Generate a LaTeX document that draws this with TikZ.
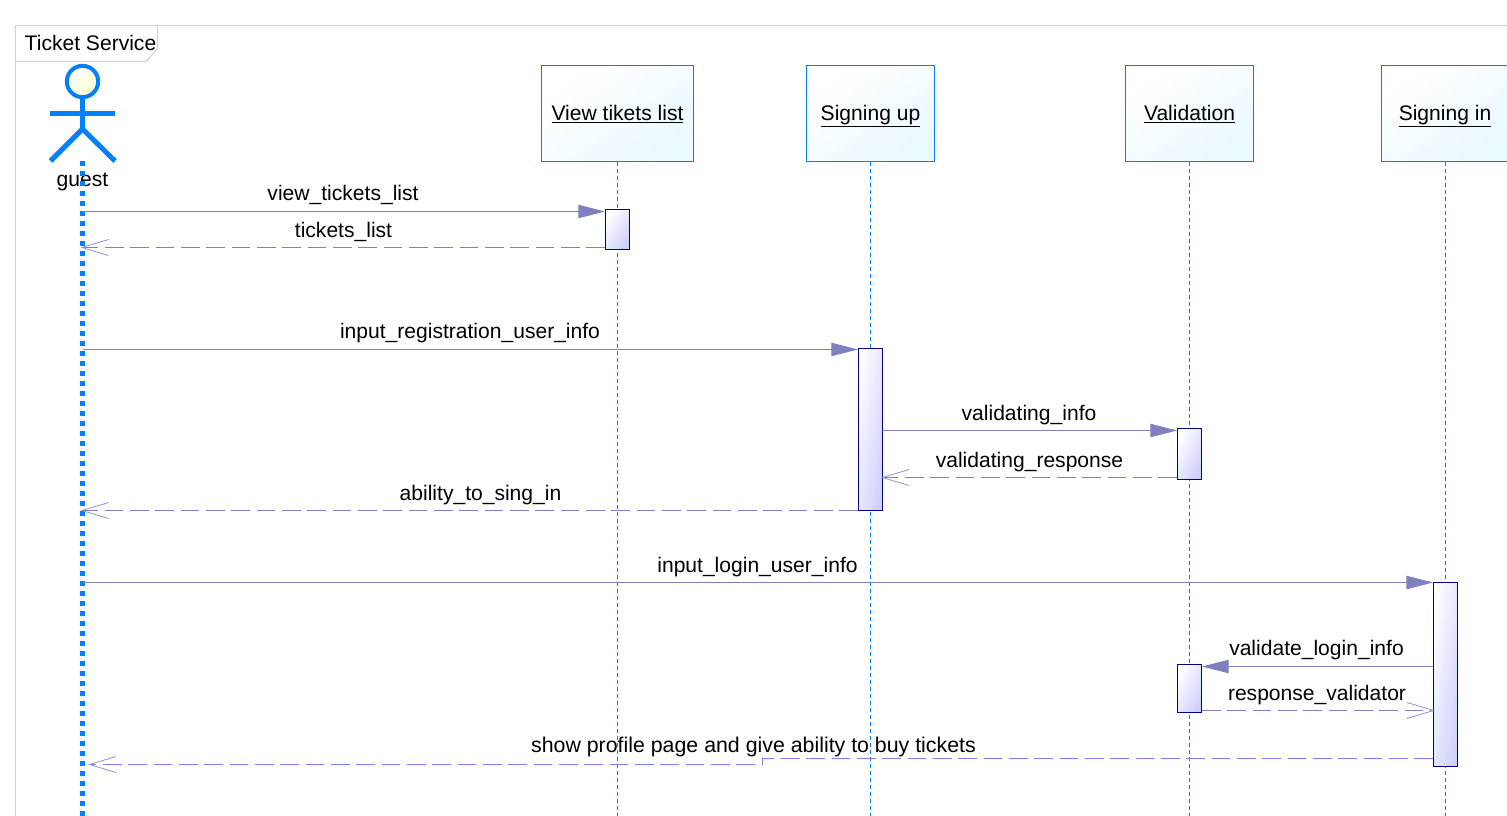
\documentclass[tikz,border=0pt]{standalone}
\usepackage{fontspec}
\setmainfont{Liberation Sans}
\usetikzlibrary{arrows.meta,calc}
\definecolor{ublue}{HTML}{0080FF}
\definecolor{msg}{HTML}{8080C0}
\definecolor{msgb}{HTML}{8080FF}
\definecolor{barline}{HTML}{000080}
\definecolor{barfill}{HTML}{CFCFFC}
\definecolor{framec}{HTML}{D0CEE8}
\definecolor{objfill}{HTML}{EAF9FF}
\definecolor{headfill}{HTML}{FFFFC8}
\tikzset{
  x=0.75pt,y=-0.75pt,
  txt/.style={font=\fontsize{15.8}{18}\selectfont,inner sep=0pt,anchor=base,text=black},
  objbox/.style={draw=ublue,line width=0.75pt,minimum height=72pt,inner sep=0pt,
    shading=axis,top color=white,bottom color=objfill,shading angle=35},
  objtext/.style={font=\fontsize{15.8}{18}\selectfont,inner sep=0pt,anchor=base,text=black},
  bar/.style={draw=barline,line width=0.75pt,inner sep=0pt,minimum width=18pt,
    shading=axis,top color=white,bottom color=barfill},
  lifeline/.style={draw=ublue,line width=0.75pt,dash pattern=on 3pt off 2.25pt},
  call/.style={draw=msg,line width=0.75pt,-{Triangle[length=20pt,width=10pt,fill=msg]}},
  ret/.style={draw=msg,line width=0.75pt,dash pattern=on 14pt off 5pt,shorten >=-1.5pt,
    -{Straight Barb[length=20pt,width=12pt,line width=0.6pt,color=msg!85]}},
  retb/.style={ret,draw=msgb},
  actor/.style={draw=ublue,line width=3.75pt},
}
\begin{document}
\begin{tikzpicture}
\useasboundingbox (0,0) rectangle (1507,816);
\clip (0,0) rectangle (1507,816);
\fill[white] (0,0) rectangle (1507,816);
% frame
\draw[framec,line width=0.75pt] (1507,25.5) -- (15.5,25.5) -- (15.5,816);
\draw[framec,line width=0.75pt] (157.5,25.5) -- (157.5,49) -- (146,61.5) -- (15.5,61.5);
\node[txt] (frametitle) at (90.5,51) {Ticket Service};
% objects
\node[objbox,minimum width=114pt] (view) at (617.5,113.5) {};
\node[objbox,minimum width=96pt] (up) at (870.5,113.5) {};
\node[objbox,minimum width=96pt] (valid) at (1189.5,113.5) {};
\node[objbox,minimum width=96pt] (in) at (1445.5,113.5) {};
\node[objtext] (viewt) at (617.5,120.5) {\underline{View tikets list}};
\node[objtext] (upt) at (870.5,120.5) {\underline{Signing up}};
\node[objtext] (validt) at (1189.5,120.5) {\underline{Validation}};
\node[objtext] (int) at (1445,120.5) {\underline{Signing in}};
% lifeline ends
\coordinate (viewend) at (617.5,816);
\coordinate (upend) at (870.5,816);
\coordinate (validend) at (1189.5,816);
\coordinate (inend) at (1445.5,816);
\coordinate (guesttop) at (82.5,161);
\coordinate (guestend) at (82.5,816);
\draw[lifeline] (view.south) -- (viewend);
\draw[lifeline] (up.south) -- (upend);
\draw[lifeline] (valid.south) -- (validend);
\draw[lifeline] (in.south) -- (inend);
% actor
\node[circle,draw=ublue,line width=3pt,minimum size=23.5pt,inner sep=0pt,
  shading=axis,top color=white,bottom color=headfill,shading angle=45] (head) at (82.5,81.5) {};
\coordinate (hip) at (82.5,129);
\coordinate (armL) at (50,113.5);
\coordinate (armR) at (115,113.5);
\coordinate (footL) at (50.5,161);
\coordinate (footR) at (115,161);
\draw[actor] (head.south) -- (hip);
\draw[actor] (armL) -- (armR);
\draw[actor] (footL) -- (hip) -- (footR);
\node[txt] (guest) at (82.5,187) {guest};
\draw[ublue,line width=3.75pt,dash pattern=on 3.75pt off 3.75pt] (guesttop) -- (guestend);
% bars
\node[bar,minimum height=30pt,shading angle=59] (b1) at (617.5,229.5) {};
\node[bar,minimum height=121.5pt,shading angle=81] (b2) at (870.5,429.5) {};
\node[bar,minimum height=38.25pt,shading angle=65] (b3) at (1189.5,454) {};
\node[bar,minimum height=138pt,shading angle=82] (b4) at (1445.5,674.5) {};
\node[bar,minimum height=36pt,shading angle=63] (b5) at (1189.5,688.5) {};
% messages
\coordinate (g1) at (82.5,211.5);
\coordinate (g2) at (82.5,247.5);
\coordinate (g3) at (82.5,349.5);
\coordinate (g6) at (82.5,510.5);
\coordinate (g7) at (82.5,582.5);
\draw[call] (g1) -- (b1.west |- g1);
\draw[ret] (b1.west |- g2) -- (g2);
\draw[call] (g3) -- (b2.west |- g3);
\coordinate (m4) at (0,430.5);
\coordinate (m5) at (0,477.5);
\coordinate (m8) at (0,666.5);
\coordinate (m9) at (0,710.5);
\draw[call] (b2.east |- m4) -- (b3.west |- m4);
\draw[ret] (b3.west |- m5) -- (b2.east |- m5);
\draw[ret] (b2.west |- g6) -- (g6);
\draw[call] (g7) -- (b4.west |- g7);
\draw[call] (b4.west |- m8) -- (b5.east |- m8);
\draw[ret] (b5.east |- m9) -- (b4.west |- m9);
\coordinate (m10) at (0,758.5);
\coordinate (kneeA) at (762.5,758.5);
\coordinate (kneeB) at (762.5,764.5);
\coordinate (lastend) at (90,764.5);
\draw[retb] (b4.west |- m10) -- (kneeA) -- (kneeB) -- (lastend);
% labels
\node[txt] (l1) at (343,200.5) {view\_tickets\_list};
\node[txt] (l2) at (343.5,237.5) {tickets\_list};
\node[txt] (l3) at (470,338.5) {input\_registration\_user\_info};
\node[txt] (l4) at (1029,420.5) {validating\_info};
\node[txt] (l5) at (1029.5,467.5) {validating\_response};
\node[txt] (l6) at (480.5,500.5) {ability\_to\_sing\_in};
\node[txt] (l7) at (757.5,572.5) {input\_login\_user\_info};
\node[txt] (l8) at (1316.5,655.5) {validate\_login\_info};
\node[txt] (l9) at (1317,700.5) {response\_validator};
\node[txt,font=\fontsize{16}{18}\selectfont] (l10) at (753.5,752.5) {show profile page and give ability to buy tickets};
\end{tikzpicture}
\end{document}
